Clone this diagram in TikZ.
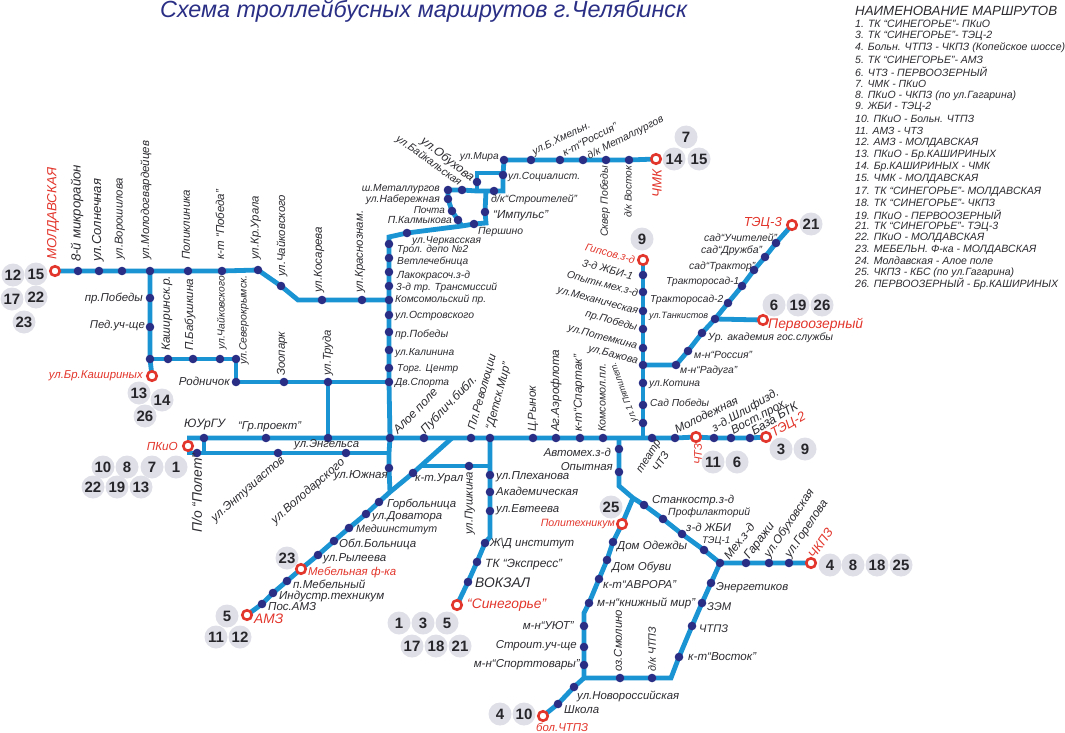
\documentclass[tikz,border=0pt]{standalone}
\usepackage{fontspec}
\setmainfont{Liberation Sans}
\usetikzlibrary{backgrounds}
\definecolor{lineblue}{HTML}{1B94D3}
\definecolor{stopblue}{HTML}{2A2F85}
\definecolor{termred}{HTML}{E2352B}
\definecolor{numgray}{HTML}{DEDFE7}
\definecolor{labtxt}{HTML}{2B2B30}
\newcounter{labc}
\newsavebox{\labbox}
% \lab[options]{x}{y}{length of the text in the picture}{text}
\newcommand{\lab}[5][]{\stepcounter{labc}\pgfinterruptpicture\global\setbox\labbox=\hbox{\fontsize{10}{10}\selectfont\itshape #5}\endpgfinterruptpicture\pgfmathsetmacro{\labfs}{10*#4/\the\wd\labbox}\node[lbl,fs=\labfs,#1] (lab\arabic{labc}) at (#2,#3) {#5};}
\newcounter{numc}
\newcommand{\rnum}[3]{\stepcounter{numc}\node[rnumst] (num\arabic{numc}) at (#1,#2) {#3};}
\tikzset{
  fs/.style={font=\fontsize{#1}{#1}\selectfont\itshape},
  lbl/.style={anchor=west,inner sep=0pt,text=labtxt},
  up/.style={rotate=90},
  rd/.style={text=termred},
  ea/.style={anchor=east},
  route/.style={draw=lineblue,line width=4.8pt,line join=miter},
  stopn/.style={circle,fill=stopblue,inner sep=0pt,minimum size=8.6pt},
  term/.style={circle,draw=termred,line width=2.6pt,fill=white,inner sep=0pt,minimum size=9.5pt},
  rnumst/.style={circle,fill=numgray,inner sep=0pt,minimum size=23pt,text=labtxt!90!black,font=\fontsize{15}{15}\selectfont\bfseries},
}
\begin{document}
\begin{tikzpicture}[x=1pt,y=-1pt]
\useasboundingbox (0,0) rectangle (1065,733);
% ---- stops: western line
\node[term] (tMol) at (55,271) {};
\node[stopn] (a1) at (78,271) {};
\node[stopn] (a2) at (99,271) {};
\node[stopn] (a3) at (122,271) {};
\node[stopn] (a4) at (150,271) {};
\node[stopn] (a5) at (188,271) {};
\node[stopn] (a6) at (222,271) {};
\node[stopn] (a7) at (258,270) {};
\node[stopn] (a8) at (281,286) {};
\coordinate (cA) at (298,300);
\node[stopn] (a9) at (322,300) {};
\node[stopn] (a10) at (362,300) {};
% western branch
\node[stopn] (b1) at (150,298) {};
\node[stopn] (b2) at (150,327) {};
\node[stopn] (b3) at (150,359) {};
\node[term] (tKash) at (152,376) {};
\node[stopn] (b4) at (168,359) {};
\node[stopn] (b5) at (193,359) {};
\node[stopn] (b6) at (220,359) {};
\node[stopn] (b7) at (236,359) {};
\node[stopn] (b8) at (236,382) {};
\node[stopn] (b9) at (284,382) {};
\node[stopn] (b10) at (328,382) {};
% main vertical
\coordinate (cT) at (389,237);
\node[stopn] (m1) at (389,244) {};
\node[stopn] (m2) at (389,258) {};
\node[stopn] (m3) at (389,272) {};
\node[stopn] (m4) at (389,286) {};
\node[stopn] (m5) at (389,300) {};
\node[stopn] (m6) at (389,315) {};
\node[stopn] (m7) at (389,332) {};
\node[stopn] (m8) at (389,350) {};
\node[stopn] (m9) at (389,368) {};
\node[stopn] (m10) at (389,382) {};
\node[stopn] (m11) at (390,438) {};
\node[stopn] (m12) at (389,468) {};
\coordinate (cM) at (390,492);
% northern loop
\node[stopn] (t1) at (407,233) {};
\coordinate (cJ) at (462,226);
\node[stopn] (t2) at (474,224) {};
\coordinate (cI) at (486,223);
\node[stopn] (t3) at (485,212) {};
\coordinate (cK) at (486,191);
\node[stopn] (n1) at (448,190) {};
\node[stopn] (n2) at (462,190) {};
\coordinate (cO) at (477,191);
\node[stopn] (n3) at (494,191) {};
\coordinate (cS) at (503,191);
\node[stopn] (n4) at (503,175) {};
\node[stopn] (n5) at (504,160) {};
\node[stopn] (o1) at (477,182) {};
\coordinate (cP) at (477,173);
\coordinate (cQ) at (503,173);
\node[stopn] (l1) at (448,199) {};
\node[stopn] (l2) at (452,211) {};
\node[stopn] (l3) at (458,220) {};
\node[stopn] (h1) at (531,160) {};
\node[stopn] (h2) at (560,160) {};
\node[stopn] (h3) at (583,160) {};
\node[stopn] (h4) at (606,160) {};
\node[stopn] (h5) at (629,160) {};
\node[term] (tChmk) at (656,159) {};
% main horizontals
\coordinate (cW1) at (187,438);
\coordinate (cW2) at (187,453);
\node[term] (tPkio) at (188,446) {};
\node[stopn] (g1) at (204,438) {};
\node[stopn] (g2) at (266,438) {};
\node[stopn] (g3) at (328,438) {};
\node[stopn] (g4) at (424,438) {};
\node[stopn] (g5) at (471,438) {};
\node[stopn] (g6) at (490,438) {};
\node[stopn] (g7) at (533,438) {};
\node[stopn] (g8) at (556,438) {};
\node[stopn] (g9) at (580,438) {};
\node[stopn] (g10) at (603,438) {};
\coordinate (cG1) at (619,438);
\coordinate (cG2) at (643,438);
\node[stopn] (g11) at (652,438) {};
\node[stopn] (g12) at (675,438) {};
\node[term] (tChtz) at (696,437) {};
\node[stopn] (g13) at (714,438) {};
\node[stopn] (g14) at (731,438) {};
\node[stopn] (g15) at (750,438) {};
\node[term] (tTec2) at (766,437) {};
\coordinate (cE0) at (204,453);
\node[stopn] (e1) at (197,453) {};
\node[stopn] (e2) at (278,453) {};
\node[stopn] (e3) at (346,453) {};
\coordinate (cE4) at (389,453);
% AMZ diagonal
\node[term] (tAmz) at (247,615) {};
\node[stopn] (d1) at (262,604) {};
\node[stopn] (d2) at (273,593) {};
\node[stopn] (d3) at (287,581) {};
\node[term] (tMeb) at (301,569) {};
\node[stopn] (d4) at (318,555) {};
\node[stopn] (d5) at (334,541) {};
\node[stopn] (d6) at (349,528) {};
\node[stopn] (d7) at (366,514) {};
\node[stopn] (d8) at (379,502) {};
\node[stopn] (d9) at (413,473) {};
\coordinate (cD) at (452,438);
\coordinate (cU) at (420,466);
\node[stopn] (u1) at (469,466) {};
\coordinate (cV) at (490,466);
% Sinegorye
\node[stopn] (v1) at (490,475) {};
\node[stopn] (v2) at (490,492) {};
\node[stopn] (v3) at (490,511) {};
\coordinate (cV2) at (490,537);
\node[stopn] (v4) at (485,543) {};
\node[stopn] (v5) at (477,562) {};
\node[stopn] (v6) at (468,582) {};
\node[term] (tSin) at (457,605) {};
% Gypsum vertical
\node[term] (tGyp) at (643,260) {};
\node[stopn] (p1) at (643,275) {};
\node[stopn] (p2) at (643,292) {};
\node[stopn] (p3) at (643,311) {};
\node[stopn] (p4) at (643,329) {};
\node[stopn] (p5) at (643,348) {};
\node[stopn] (p6) at (643,365) {};
\node[stopn] (p7) at (643,383) {};
\node[stopn] (p8) at (643,405) {};
\node[stopn] (p9) at (643,423) {};
% TEC-3 diagonal
\node[stopn] (q1) at (676,365) {};
\node[stopn] (q2) at (688,351) {};
\node[stopn] (q3) at (702,333) {};
\node[stopn] (q4) at (715,319) {};
\node[stopn] (q5) at (728,303) {};
\node[stopn] (q6) at (742,286) {};
\node[stopn] (q7) at (754,270) {};
\node[stopn] (q8) at (765,257) {};
\node[stopn] (q9) at (776,243) {};
\node[term] (tTec3) at (792,225) {};
\node[term] (tPer) at (763,320) {};
% southern
\node[stopn] (r1) at (619,449) {};
\node[stopn] (r2) at (619,472) {};
\coordinate (cR) at (619,486);
\coordinate (cR2) at (633,498);
\node[stopn] (r3) at (644,505) {};
\node[stopn] (r4) at (663,519) {};
\node[stopn] (r5) at (682,534) {};
\node[stopn] (r6) at (704,550) {};
\node[stopn] (r7) at (720,563) {};
\node[stopn] (w1) at (746,563) {};
\node[stopn] (w2) at (769,563) {};
\node[stopn] (w3) at (789,563) {};
\node[term] (tChk) at (811,563) {};
\node[stopn] (x1) at (711,583) {};
\node[stopn] (x2) at (702,603) {};
\node[stopn] (x3) at (692,626) {};
\node[stopn] (x4) at (679,657) {};
\coordinate (cX) at (671,678);
\node[stopn] (x5) at (652,678) {};
\node[stopn] (x6) at (620,678) {};
\coordinate (cY) at (584,678);
\node[stopn] (y1) at (574,687) {};
\node[stopn] (y2) at (558,704) {};
\node[term] (tBol) at (543,716) {};
\node[stopn] (z1) at (584,665) {};
\node[stopn] (z2) at (584,647) {};
\node[stopn] (z3) at (584,626) {};
\coordinate (cZ) at (584,613);
\node[stopn] (z4) at (589,603) {};
\node[stopn] (z5) at (599,579) {};
\node[stopn] (z6) at (607,560) {};
\node[stopn] (z7) at (613,542) {};
\node[term] (tPol) at (622,524) {};
% ---- connectors
\begin{pgfonlayer}{background}
\draw[route] (tMol.center) -- (a1.center) -- (a2.center) -- (a3.center) -- (a4.center) -- (a5.center) -- (a6.center) -- (a7.center) -- (a8.center) -- (cA) -- (a9.center) -- (a10.center) -- (m5.center);
\draw[route] (a4.center) -- (b1.center) -- (b2.center) -- (b3.center) -- (tKash.center);
\draw[route] (b3.center) -- (b4.center) -- (b5.center) -- (b6.center) -- (b7.center) -- (b8.center) -- (b9.center) -- (b10.center) -- (m10.center);
\draw[route] (b10.center) -- (g3.center);
\draw[route] (t1.center) -- (cT) -- (m1.center) -- (m2.center) -- (m3.center) -- (m4.center) -- (m5.center) -- (m6.center) -- (m7.center) -- (m8.center) -- (m9.center) -- (m10.center) -- (m11.center) -- (cE4) -- (m12.center) -- (cM);
\draw[route] (t1.center) -- (cJ) -- (t2.center) -- (cI) -- (t3.center) -- (cK);
\draw[route] (n1.center) -- (n2.center) -- (cO) -- (cK) -- (n3.center) -- (cS) -- (cQ) -- (n4.center) -- (n5.center);
\draw[route] (cO) -- (o1.center) -- (cP) -- (cQ);
\draw[route] (n1.center) -- (l1.center) -- (l2.center) -- (l3.center) -- (cJ);
\draw[route] (n5.center) -- (h1.center) -- (h2.center) -- (h3.center) -- (h4.center) -- (h5.center) -- (tChmk.center);
\draw[route] (cW1) -- (g1.center) -- (g2.center) -- (g3.center) -- (m11.center) -- (g4.center) -- (cD) -- (g5.center) -- (g6.center) -- (g7.center) -- (g8.center) -- (g9.center) -- (g10.center) -- (cG1) -- (cG2) -- (g11.center) -- (g12.center) -- (tChtz.center) -- (g13.center) -- (g14.center) -- (g15.center) -- (tTec2.center);
\draw[route] (cW2) -- (e1.center) -- (cE0) -- (e2.center) -- (e3.center) -- (cE4);
\draw[route] (g1.center) -- (cE0);
\draw[route] (tAmz.center) -- (d1.center) -- (d2.center) -- (d3.center) -- (tMeb.center) -- (d4.center) -- (d5.center) -- (d6.center) -- (d7.center) -- (d8.center) -- (cM) -- (d9.center) -- (cD);
\draw[route] (cU) -- (u1.center) -- (cV);
\draw[route] (g6.center) -- (cV) -- (v1.center) -- (v2.center) -- (v3.center) -- (cV2) -- (v4.center) -- (v5.center) -- (v6.center) -- (tSin.center);
\draw[route] (tGyp.center) -- (p1.center) -- (p2.center) -- (p3.center) -- (p4.center) -- (p5.center) -- (p6.center) -- (p7.center) -- (p8.center) -- (p9.center) -- (cG2);
\draw[route] (p6.center) -- (q1.center) -- (q2.center) -- (q3.center) -- (q4.center) -- (q5.center) -- (q6.center) -- (q7.center) -- (q8.center) -- (q9.center) -- (tTec3.center);
\draw[route] (q4.center) -- (tPer.center);
\draw[route] (cG1) -- (r1.center) -- (r2.center) -- (cR) -- (cR2) -- (r3.center) -- (r4.center) -- (r5.center) -- (r6.center) -- (r7.center) -- (w1.center) -- (w2.center) -- (w3.center) -- (tChk.center);
\draw[route] (r7.center) -- (x1.center) -- (x2.center) -- (x3.center) -- (x4.center) -- (cX) -- (x5.center) -- (x6.center) -- (cY) -- (y1.center) -- (y2.center) -- (tBol.center);
\draw[route] (cY) -- (z1.center) -- (z2.center) -- (z3.center) -- (cZ) -- (z4.center) -- (z5.center) -- (z6.center) -- (z7.center) -- (tPol.center) -- (cR2);
\end{pgfonlayer}
% ---- route numbers
\rnum{13}{275}{12}\rnum{36}{274}{15}\rnum{12}{299}{17}\rnum{36}{297}{22}\rnum{24}{322}{23}
\rnum{139}{393}{13}\rnum{162}{400}{14}\rnum{145}{416}{26}
\rnum{176}{467}{1}\rnum{152}{467}{7}\rnum{127}{467}{8}\rnum{103}{467}{10}\rnum{93}{487}{22}\rnum{117}{487}{19}\rnum{141}{487}{13}
\rnum{287}{558}{23}\rnum{227}{616}{5}\rnum{216}{637}{11}\rnum{240}{637}{12}
\rnum{399}{623}{1}\rnum{423}{623}{3}\rnum{447}{623}{5}\rnum{412}{646}{17}\rnum{436}{646}{18}\rnum{460}{646}{21}
\rnum{500}{714}{4}\rnum{524}{714}{10}\rnum{611}{507}{25}
\rnum{686}{137}{7}\rnum{674}{159}{14}\rnum{699}{159}{15}\rnum{642}{239}{9}\rnum{811}{224}{21}
\rnum{774}{305}{6}\rnum{798}{305}{19}\rnum{822}{305}{26}\rnum{781}{449}{3}\rnum{805}{449}{9}\rnum{713}{462}{11}\rnum{737}{462}{6}
\rnum{830}{565}{4}\rnum{853}{565}{8}\rnum{877}{565}{18}\rnum{901}{565}{25}
% ---- title and legend
\lab[text=stopblue]{160}{11.5}{527}{Схема троллейбусных маршрутов г.Челябинск}
\lab{855}{10.5}{202}{НАИМЕНОВАНИЕ МАРШРУТОВ}
\lab{855}{24}{135}{1. ТК “СИНЕГОРЬЕ”- ПКиО}
\lab{855}{36}{137}{3. ТК “СИНЕГОРЬЕ”- ТЭЦ-2}
\lab{855}{48}{210}{4. Больн. ЧТПЗ - ЧКПЗ (Копейское шоссе)}
\lab{855}{60}{128}{5. ТК “СИНЕГОРЬЕ”- АМЗ}
\lab{855}{72}{132}{6. ЧТЗ - ПЕРВООЗЕРНЫЙ}
\lab{855}{84}{71}{7. ЧМК - ПКиО}
\lab{855}{96}{161}{8. ПКиО - ЧКПЗ (по ул.Гагарина)}
\lab{855}{107}{76}{9. ЖБИ - ТЭЦ-2}
\lab{855}{119}{119}{10. ПКиО - Больн. ЧТПЗ}
\lab{855}{131}{68}{11. АМЗ - ЧТЗ}
\lab{855}{143}{123}{12. АМЗ - МОЛДАВСКАЯ}
\lab{855}{155}{141}{13. ПКиО - Бр.КАШИРИНЫХ}
\lab{855}{167}{135}{14. Бр.КАШИРИНЫХ - ЧМК}
\lab{855}{179}{123}{15. ЧМК - МОЛДАВСКАЯ}
\lab{855}{192}{186}{17. ТК “СИНЕГОРЬЕ”- МОЛДАВСКАЯ}
\lab{855}{203}{140}{18. ТК “СИНЕГОРЬЕ”- ЧКПЗ}
\lab{855}{215}{146}{19. ПКиО - ПЕРВООЗЕРНЫЙ}
\lab{855}{227}{143}{21. ТК “СИНЕГОРЬЕ”- ТЭЦ-3}
\lab{855}{238}{129}{22. ПКиО - МОЛДАВСКАЯ}
\lab{855}{250}{181}{23. МЕБЕЛЬН. Ф-ка - МОЛДАВСКАЯ}
\lab{855}{261}{138}{24. Молдавская - Алое поле}
\lab{855}{273}{159}{25. ЧКПЗ - КБС (по ул.Гагарина)}
\lab{855}{284}{203}{26. ПЕРВООЗЕРНЫЙ - Бр.КАШИРИНЫХ}
% ---- western labels
\lab[up,rd]{53}{260}{92}{МОЛДАВСКАЯ}
\lab[up]{77}{262}{97}{8-й микрорайон}
\lab[up]{98}{262}{83}{ул.Солнечная}
\lab[up]{120}{260}{82}{ул.Ворошилова}
\lab[up]{146}{260}{119}{ул.Молодогвардейцев}
\lab[up]{186}{260}{70}{Поликлиника}
\lab[up]{220}{260}{70}{к-т “Победа”}
\lab[up]{256}{260}{64}{ул.Кр.Урала}
\lab[up]{282}{277}{82}{ул.Чайковского}
\lab[up]{319}{293}{66}{ул.Косарева}
\lab[up]{360}{293}{82}{ул.Краснознам.}
\lab[ea]{143}{298}{58}{пр.Победы}
\lab[ea]{145}{326}{55}{Пед.уч-ще}
\lab[up]{167}{351}{75}{Каширинск.р.}
\lab[up]{190}{351}{72}{П.Бабушкина}
\lab[up]{222}{350}{74}{ул.Чайковского}
\lab[up]{244}{365}{89}{ул.Северокрымск.}
\lab[up]{282}{376}{44}{Зоопарк}
\lab[up]{328}{376}{46}{ул.Труда}
\lab[ea]{230}{381}{51}{Родничок}
\lab[ea,rd]{143}{376}{94}{ул.Бр.Кашириных}
\lab{184}{425}{41}{ЮУрГУ}
\lab{238}{427}{63}{“Гр.проект”}
\lab{294}{445}{65}{ул.Энгельса}
\lab[ea,rd]{178}{446}{31}{ПКиО}
\lab[up]{197}{533}{79}{П/о “Полет”}
\lab[rotate=41]{213}{520}{93}{ул.Энтузиастов}
\lab[rotate=41]{273}{522}{93}{ул.Володарского}
\lab[ea]{388}{476}{54}{ул.Южная}
\lab{387}{504}{69}{Горбольница}
\lab{372}{517}{70}{ул.Доватора}
\lab{356}{530}{81}{Медиинститут}
\lab{339}{544}{77}{Обл.Больница}
\lab{323}{559}{63}{ул.Рылеева}
\lab[rd]{308}{572}{88}{Мебельная ф-ка}
\lab{293}{584}{72}{п.Мебельный}
\lab{279}{596}{105}{Индустр.техникум}
\lab{268}{607}{48}{Пос.АМЗ}
\lab[rd]{254}{619}{29}{АМЗ}
% ---- central labels
\lab{412}{241}{69}{ул.Черкасская}
\lab{397}{250}{71}{Трол. депо №2}
\lab{397}{262}{71}{Ветлечебница}
\lab{397}{276}{73}{Лакокрасоч.з-д}
\lab{396}{288}{101}{3-д тр. Трансмиссий}
\lab{395}{300}{91}{Комсомольский пр.}
\lab{395}{316}{79}{ул.Островского}
\lab{395}{335}{53}{пр.Победы}
\lab{395}{353}{59}{ул.Калинина}
\lab{397}{369}{61}{Торг. Центр}
\lab{395}{383}{54}{Дв.Спорта}
\lab{478}{232}{45}{Першино}
\lab{493}{216}{55}{“Импульс”}
\lab{491}{200}{86}{д/к“Строителей”}
\lab{508}{177}{72}{ул.Социалист.}
\lab[ea]{499}{157}{39}{ул.Мира}
\lab[ea]{440}{189}{78}{ш.Металлургов}
\lab[ea]{440}{200}{74}{ул.Набережная}
\lab[ea]{445}{210}{31}{Почта}
\lab[ea]{452}{220}{64}{П.Калмыкова}
\lab[rotate=-38]{422}{140}{64}{ул.Обухова}
\lab[rotate=-36]{397}{138}{78}{ул.Байкальская}
\lab[rotate=26]{533}{153}{63}{ул.Б.Хмельн.}
\lab[rotate=27]{563}{153}{60}{к-т“Россия”}
\lab[rotate=27]{588}{157}{84}{д/к Металлургов}
\lab[up]{605}{237}{71}{Сквер Победы}
\lab[up]{628}{218}{52}{д/к Восток}
\lab[up,rd]{657}{198}{28}{ЧМК}
\lab[ea,rd,rotate=-15]{635}{260}{51}{Гипсов.з-д}
\lab[ea,rotate=-15]{633}{276}{52}{3-д ЖБИ-1}
\lab[ea,rotate=-15]{638}{293}{73}{Опытн.мех.з-д}
\lab[ea,rotate=-15]{638}{312}{83}{ул.Механическая}
\lab[ea,rotate=-15]{637}{328}{53}{пр.Победы}
\lab[ea,rotate=-15]{637}{347}{71}{ул.Потемкина}
\lab[ea,rotate=-15]{638}{362}{51}{ул.Бажова}
\lab{649}{316}{59}{ул.Танкистов}
\lab{650}{300}{73}{Тракторосад-2}
\lab{666}{282}{73}{Тракторосад-1}
\lab{689}{267}{66}{сад“Трактор”}
\lab{701}{251}{61}{сад“Дружба”}
\lab{704}{238}{73}{сад“Учителей”}
\lab[ea,rd]{782}{223}{38}{ТЭЦ-3}
\lab{708}{338}{125}{Ур. академия гос.службы}
\lab{694}{355}{58}{м-н“Россия”}
\lab{680}{371}{57}{м-н“Радуга”}
\lab{649}{384}{51}{ул.Котина}
\lab{650}{403}{59}{Сад Победы}
\lab[rd]{768}{325}{95}{Первоозерный}
\lab[rotate=26]{675}{430}{69}{Молодежная}
\lab[rotate=30]{713}{430}{75}{з-д.Шлифизд.}
\lab[rotate=28]{732}{432}{62}{Вост.прох.}
\lab[rotate=31]{752}{432}{52}{База БТК}
\lab[rotate=30,rd]{772}{435}{38}{ТЭЦ-2}
\lab[up,rd]{698}{465}{21}{ЧТЗ}
\lab[rotate=58]{640}{473}{37}{театр}
\lab[rotate=58]{655}{471}{21}{ЧТЗ}
\lab[rotate=110]{635}{422}{63}{ул.1 Пятилет.}
\lab[rotate=46]{395}{432}{58}{Алое поле}
\lab[rotate=46]{423}{432}{75}{Публич.библ.}
\lab[rotate=74]{472}{430}{78}{Пл.Революции}
\lab[rotate=75]{490}{430}{69}{“Детск.Мир”}
\lab[up]{533}{432}{46}{Ц.Рынок}
\lab[up]{556}{432}{82}{Аг.Аэрофлота}
\lab[up]{579}{432}{77}{к-т“Спартак”}
\lab[up]{602}{432}{68}{Комсомол.пл.}
% ---- southern labels
\lab{415}{479}{48}{к-т.Урал}
\lab[up]{470}{535}{63}{ул.Пушкина}
\lab{496}{477}{73}{ул.Плеханова}
\lab{496}{491}{82}{Академическая}
\lab{496}{510}{63}{ул.Евтеева}
\lab{490}{544}{84}{Ж\textbackslash Д институт}
\lab{485}{565}{77}{ТК “Экспресс”}
\lab{475}{583}{55}{ВОКЗАЛ}
\lab[rd]{467}{605}{79}{“Синегорье”}
\lab[ea]{611}{452}{67}{Автомех.з-д}
\lab[ea]{613}{467}{52}{Опытная}
\lab[ea,rd]{615}{524}{74}{Политехникум}
\lab{617}{546}{70}{Дом Одежды}
\lab{612}{567}{59}{Дом Обуви}
\lab{603}{585}{73}{к-т“АВРОРА”}
\lab{597}{603}{98}{м-н“книжный мир”}
\lab[ea]{574}{626}{51}{м-н“УЮТ”}
\lab[ea]{577}{646}{81}{Строит.уч-ще}
\lab[ea]{580}{665}{106}{м-н“Спорттовары”}
\lab[up]{618}{672}{62}{оз.Смолино}
\lab[up]{652}{672}{45}{д/к ЧТПЗ}
\lab{577}{696}{102}{ул.Новороссийская}
\lab{564}{710}{35}{Школа}
\lab[rd]{536}{727}{52}{бол.ЧТПЗ}
\lab{652}{501}{82}{Станкостр.з-д}
\lab{668}{513}{82}{Профилакторий}
\lab{686}{527}{45}{з-д ЖБИ}
\lab{702}{541}{28}{ТЭЦ-1}
\lab[rotate=52]{726}{558}{42}{Мех.з-д}
\lab[rotate=53]{747}{558}{42}{Гаражи}
\lab[rotate=56]{767}{557}{80}{ул.Обуховская}
\lab[rotate=56]{788}{557}{67}{ул.Горелова}
\lab[rotate=55,rd]{811}{557}{33}{ЧКПЗ}
\lab{716}{588}{72}{Энергетиков}
\lab{707}{607}{24}{ЗЭМ}
\lab{699}{629}{29}{ЧТПЗ}
\lab{688}{657}{68}{к-т“Восток”}
\end{tikzpicture}
\end{document}
